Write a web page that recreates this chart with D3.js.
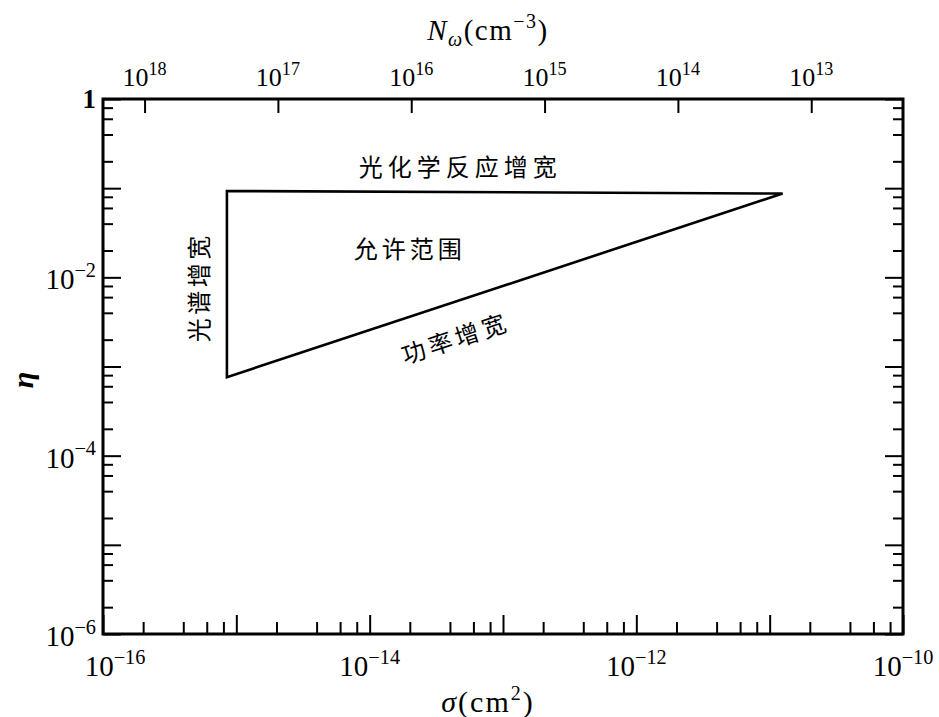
<!DOCTYPE html>
<html><head><meta charset="utf-8">
<script src="https://cdn.jsdelivr.net/npm/d3@7"></script>
<style>body{margin:0;background:#fff}</style>
</head><body><svg id="chart" width="939" height="717"></svg>
<script>
// ---- data ----
const sigmaDomain = [1e-16, 1e-10];
const etaDomain = [1, 1e-6];
const nDomain = [2.05e18, 2.05e12];
const sigmaDecadeExps = [-16, -15, -14, -13, -12, -11, -10];
const sigmaLabelExps = [-16, -14, -12, -10];
const etaDecadeExps = [0, -1, -2, -3, -4, -5, -6];
const etaLabelExps = [0, -2, -4, -6];
const nTickExps = [18, 17, 16, 15, 14, 13];
const minorMultipliers = [2, 4, 6, 8];
// allowed region triangle (sigma, eta)
const regionSigma = [8.5e-16, 1.25e-11, 8.5e-16];
const regionEta = [0.093, 0.087, 7.6e-4];
// annotations (log10 sigma, log10 eta)
const annText = ["光化学反应增宽", "允许范围", "光谱增宽", "功率增宽"];
const annLogSigma = [-13.32, -13.70, -15.29, -13.36];
const annLogEta = [-0.75, -1.67, -2.11, -2.67];

// ---- layout ----
const svg = d3.select('#chart');
const L = 103, R = 903, T = 99, B = 634;
const x = d3.scaleLog().domain(sigmaDomain).range([L, R]);
const y = d3.scaleLog().domain(etaDomain).range([T, B]);
const xTop = d3.scaleLog().domain(nDomain).range([L, R]);
const serif = "'Liberation Serif','DejaVu Serif',serif";
const cjk = "'Noto Sans CJK SC','Noto Sans CJK TC',sans-serif";

function minorBetween(exps) {
  const lo = Math.min(...exps), hi = Math.max(...exps);
  const out = [];
  for (let e = lo; e < hi; e++) minorMultipliers.forEach(m => out.push(m * Math.pow(10, e)));
  return out;
}

function ticks(axisGen, values, size, transform) {
  const g = svg.append('g').attr('transform', transform)
    .call(axisGen.tickValues(values).tickSize(size).tickFormat(''));
  g.select('.domain').remove();
  g.selectAll('line').attr('stroke', '#000').attr('stroke-width', 2);
}

const sigMajor = sigmaDecadeExps.map(e => Math.pow(10, e));
const etaMajor = etaDecadeExps.map(e => Math.pow(10, e));
ticks(d3.axisBottom(x), sigMajor, -19, `translate(0,${B})`);
ticks(d3.axisBottom(x), minorBetween(sigmaDecadeExps), -12, `translate(0,${B})`);
ticks(d3.axisLeft(y), etaMajor, -18, `translate(${L},0)`);
ticks(d3.axisLeft(y), minorBetween(etaDecadeExps), -10, `translate(${L},0)`);
ticks(d3.axisRight(y), etaMajor, -18, `translate(${R},0)`);
ticks(d3.axisRight(y), minorBetween(etaDecadeExps), -10, `translate(${R},0)`);
ticks(d3.axisTop(xTop), nTickExps.map(e => Math.pow(10, e)), -14, `translate(0,${T})`);

// frame
svg.append('rect').attr('x', L).attr('y', T).attr('width', R - L).attr('height', B - T)
  .attr('fill', 'none').attr('stroke', '#000').attr('stroke-width', 3);

// power label helper
function powLabel(px, py, exp, size, anchor) {
  const t = svg.append('text').attr('x', px).attr('y', py)
    .attr('font-family', serif).attr('font-size', size).attr('text-anchor', anchor).attr('fill', '#000');
  if (exp === 0) { t.text('1').attr('font-weight', 'bold'); return t; }
  t.append('tspan').text('10');
  t.append('tspan').attr('dy', -size * 0.42).attr('font-size', size * 0.7)
    .text(exp < 0 ? '\u2212' + (-exp) : String(exp));
  return t;
}

// bottom labels
sigmaLabelExps.forEach((e, i) => {
  const px = x(Math.pow(10, e)) + (i === 0 ? 12 : 0);
  powLabel(px, 676, e, 29, 'middle');
});
// left labels
etaLabelExps.forEach(e => {
  const py = y(Math.pow(10, e));
  powLabel(96, e === 0 ? py + 9 : py + 12, e, e === 0 ? 27 : 29, 'end');
});
// top labels
nTickExps.forEach(e => {
  powLabel(xTop(Math.pow(10, e)), 86, e, 26, 'middle');
});

// axis titles
const tt = svg.append('text').attr('x', 488).attr('y', 40).attr('text-anchor', 'middle')
  .attr('font-family', serif).attr('font-size', 29).attr('letter-spacing', 1.5).attr('fill', '#000');
tt.append('tspan').attr('font-style', 'italic').text('N');
tt.append('tspan').attr('font-style', 'italic').attr('font-size', 20).attr('dy', 6).text('ω');
tt.append('tspan').attr('dy', -6).text('(cm');
tt.append('tspan').attr('font-size', 20).attr('dy', -12).text('\u22123');
tt.append('tspan').attr('dy', 12).text(')');

const bt = svg.append('text').attr('x', 488).attr('y', 712).attr('text-anchor', 'middle')
  .attr('font-family', serif).attr('font-size', 30).attr('letter-spacing', 2).attr('fill', '#000');
bt.append('tspan').attr('font-style', 'italic').text('σ');
bt.append('tspan').text('(cm');
bt.append('tspan').attr('font-size', 20).attr('dy', -12).text('2');
bt.append('tspan').attr('dy', 12).text(')');

svg.append('text').attr('transform', 'translate(22,380) rotate(-90)')
  .attr('text-anchor', 'middle').attr('dominant-baseline', 'central')
  .attr('font-family', serif).attr('font-size', 30).attr('font-style', 'italic').attr('font-weight', 'bold')
  .text('η');

// allowed region
const pts = regionSigma.map((s, i) => [x(s), y(regionEta[i])]);
svg.append('path').attr('d', d3.line()(pts) + 'Z')
  .attr('fill', 'none').attr('stroke', '#000').attr('stroke-width', 2.6).attr('stroke-linejoin', 'miter');

// annotations
const slopeAngle = Math.atan2(pts[1][1] - pts[2][1], pts[1][0] - pts[2][0]) * 180 / Math.PI;
const annRot = [0, 0, -90, slopeAngle];
const annSpacing = [5, 4, 3.5, 4];
annText.forEach((txt, i) => {
  const ax = x(Math.pow(10, annLogSigma[i])), ay = y(Math.pow(10, annLogEta[i]));
  svg.append('text').attr('transform', `translate(${ax},${ay}) rotate(${annRot[i]})`)
    .attr('text-anchor', 'middle').attr('dominant-baseline', 'central')
    .attr('font-family', cjk).attr('font-size', 24).attr('letter-spacing', annSpacing[i])
    .attr('fill', '#000').text(txt);
});
</script>
</body></html>
